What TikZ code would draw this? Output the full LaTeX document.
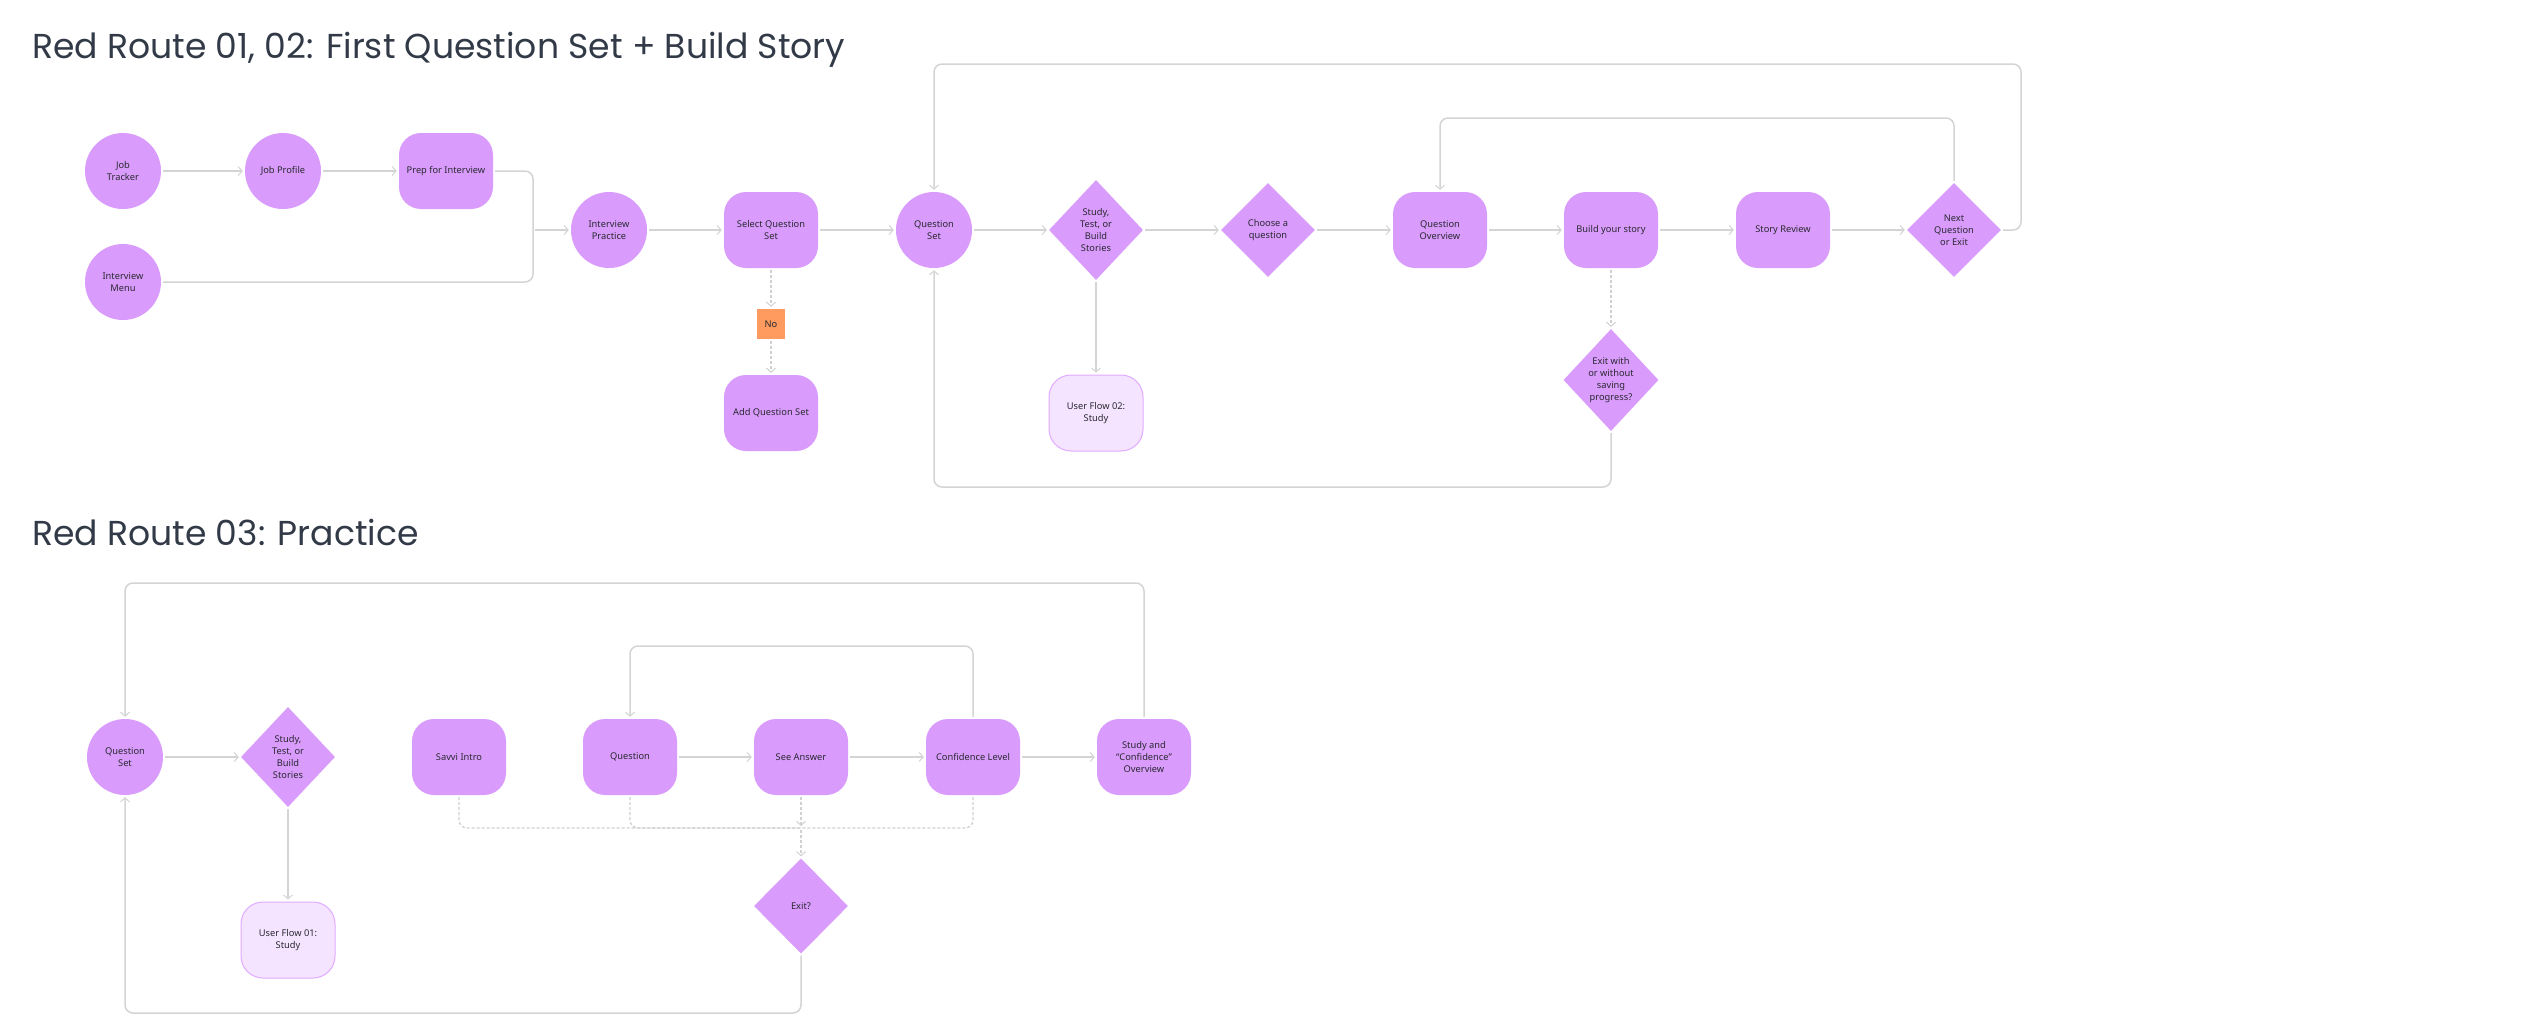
\documentclass[tikz,border=0pt]{standalone}
\usepackage{fontspec}
\setmainfont{Noto Sans}
\newfontfamily\titlefont{Poppins}
\usetikzlibrary{shapes.geometric,arrows.meta}
\definecolor{pfill}{RGB}{218,156,252}
\definecolor{lfill}{RGB}{245,228,255}
\definecolor{lborder}{RGB}{226,170,255}
\definecolor{ofill}{RGB}{255,155,94}
\definecolor{lgray}{RGB}{212,212,212}
\definecolor{dgray}{RGB}{208,208,208}
\definecolor{ntext}{RGB}{40,40,48}
\definecolor{ttext}{RGB}{50,58,72}
\tikzset{
  base/.style={fill=pfill, draw=none, text=ntext, font=\fontsize{9.3}{12}\selectfont, align=center, inner sep=0pt},
  circ/.style={base, circle, minimum size=76},
  rrect/.style={base, rectangle, rounded corners=22, minimum width=94, minimum height=76},
  lightbox/.style={rrect, fill=lfill, draw=lborder, line width=1pt},
  dia/.style={base, diamond, minimum width=94, minimum height=94},
  nobox/.style={base, rectangle, fill=ofill, minimum width=28, minimum height=30},
  conn/.style={draw=lgray, line width=1.5pt, rounded corners=8pt, shorten <=2pt, shorten >=2pt, -{Straight Barb[length=4pt,width=9pt,line width=1pt]}},
  plain/.style={draw=lgray, line width=1.5pt, rounded corners=8pt, shorten <=2pt},
  dconn/.style={draw=dgray, line width=1.2pt, dash pattern=on 3pt off 2pt, rounded corners=8pt, shorten <=2pt, shorten >=2pt, -{Straight Barb[length=4pt,width=9pt,line width=1pt]}},
  dplain/.style={draw=dgray, line width=1.2pt, dash pattern=on 3pt off 2pt, rounded corners=8pt, shorten <=2pt},
  titlestyle/.style={anchor=base west, inner sep=0pt, text=ttext, font=\titlefont\fontsize{34.6}{40}\selectfont}
}
\begin{document}
\begin{tikzpicture}[x=1pt,y=-1pt]
\useasboundingbox (0,0) rectangle (2536,1023);
\fill[white] (0,0) rectangle (2536,1023);

% ---------- Section 1 ----------
\node[titlestyle] (t1) at (32,58) {Red Route 01, 02: First Question Set + Build Story};

\node[circ] (jt) at (123,171) {Job\\Tracker};
\node[circ] (jp) at (283,171) {Job Profile};
\node[rrect] (prep) at (446,171) {Prep for Interview};
\node[circ] (im) at (123,282) {Interview\\Menu};
\node[circ] (ip) at (609,230) {Interview\\Practice};
\node[rrect] (sqs) at (771,230) {Select Question\\Set};
\node[nobox] (no) at (771,324) {No};
\node[rrect] (aqs) at (771,413) {Add Question Set};
\node[circ] (qs) at (934,230) {Question\\Set};
\node[dia, minimum height=100, label={[base]center:Study,\\Test, or\\Build\\Stories}] (stb) at (1096,230) {};
\node[dia, label={[base]center:Choose a\\question}] (cq) at (1268,230) {};
\node[rrect] (qo) at (1440,230) {Question\\Overview};
\node[rrect] (bys) at (1611,230) {Build your story};
\node[rrect] (sr) at (1783,230) {Story Review};
\node[dia, label={[base]center:Next\\Question\\or Exit}] (nq) at (1954,230) {};
\node[lightbox] (uf2) at (1096,413) {User Flow 02:\\Study};
\node[dia, minimum width=95, minimum height=102, label={[base]center:Exit with\\or without\\saving\\progress?}] (ews) at (1611,380) {};

\coordinate (mx) at (533,230);
\coordinate (toploop) at (2021,64);
\coordinate (innerloop) at (1700,118);
\coordinate (botloop) at (1200,487);

\draw[conn] (jt.east) -- (jp.west);
\draw[conn] (jp.east) -- (prep.west);
\draw[plain] (prep.east) -| (mx);
\draw[plain] (im.east) -| (mx);
\draw[conn] (mx) -- (ip.west);
\draw[conn] (ip.east) -- (sqs.west);
\draw[dconn] (sqs.south) -- (no.north);
\draw[dconn] (no.south) -- (aqs.north);
\draw[conn] (sqs.east) -- (qs.west);
\draw[conn] (qs.east) -- (stb.west);
\draw[conn] (stb.east) -- (cq.west);
\draw[conn] (stb.south) -- (uf2.north);
\draw[conn] (cq.east) -- (qo.west);
\draw[conn] (qo.east) -- (bys.west);
\draw[conn] (bys.east) -- (sr.west);
\draw[conn] (sr.east) -- (nq.west);
\draw[dconn] (bys.south) -- (ews.north);
\draw[conn] (nq.east) -| (toploop) -| (qs.north);
\draw[conn] (nq.north) |- (innerloop) -| (qo.north);
\draw[conn] (ews.south) |- (botloop) -| (qs.south);

% ---------- Section 2 ----------
\node[titlestyle] (t2) at (32,545) {Red Route 03: Practice};

\node[circ] (qs2) at (125,757) {Question\\Set};
\node[dia, minimum height=100, label={[base]center:Study,\\Test, or\\Build\\Stories}] (stb2) at (288,757) {};
\node[rrect] (savvi) at (459,757) {Savvi Intro};
\node[rrect] (q) at (630,757) {Question};
\node[rrect] (sa) at (801,757) {See Answer};
\node[rrect] (cl) at (973,757) {Confidence Level};
\node[rrect] (sco) at (1144,757) {Study and\\``Confidence''\\Overview};
\node[lightbox] (uf1) at (288,940) {User Flow 01:\\Study};
\node[dia, minimum height=95, label={[base]center:Exit?}] (exq) at (801,906) {};

\coordinate (outer2) at (600,583);
\coordinate (inner2) at (800,646);
\coordinate (bot2) at (500,1013);
\coordinate (m2) at (801,828);

\draw[conn] (qs2.east) -- (stb2.west);
\draw[conn] (stb2.south) -- (uf1.north);
\draw[conn] (q.east) -- (sa.west);
\draw[conn] (sa.east) -- (cl.west);
\draw[conn] (cl.east) -- (sco.west);
\draw[conn] (sco.north) |- (outer2) -| (qs2.north);
\draw[conn] (cl.north) |- (inner2) -| (q.north);
\draw[conn] (exq.south) |- (bot2) -| (qs2.south);
\draw[dplain] (savvi.south) |- (m2);
\draw[dplain] (q.south) |- (m2);
\draw[dplain] (cl.south) |- (m2);
\draw[dconn] (sa.south) -- (m2);
\draw[dconn] (m2) -- (exq.north);
\end{tikzpicture}
\end{document}
